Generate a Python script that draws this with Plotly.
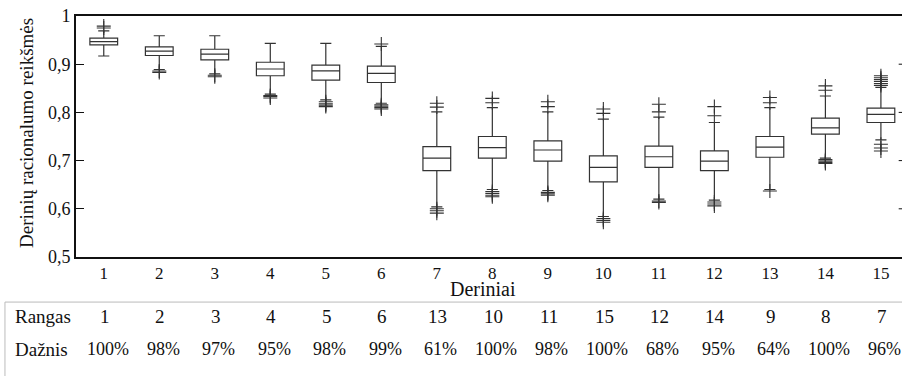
import plotly.graph_objects as go

categories = list(range(1, 16))
q1 =            [0.940, 0.918, 0.909, 0.876, 0.867, 0.862, 0.679, 0.705, 0.699, 0.656, 0.686, 0.679, 0.707, 0.755, 0.779]
median =        [0.947, 0.927, 0.921, 0.890, 0.886, 0.881, 0.705, 0.727, 0.722, 0.686, 0.708, 0.699, 0.728, 0.768, 0.796]
q3 =            [0.954, 0.936, 0.931, 0.904, 0.898, 0.896, 0.729, 0.750, 0.741, 0.710, 0.730, 0.720, 0.750, 0.788, 0.809]
lower_whisker = [0.917, 0.889, 0.880, 0.838, 0.826, 0.819, 0.604, 0.640, 0.638, 0.584, 0.620, 0.618, 0.640, 0.705, 0.743]
upper_whisker = [0.969, 0.959, 0.959, 0.943, 0.943, 0.937, 0.801, 0.810, 0.801, 0.786, 0.790, 0.779, 0.810, 0.834, 0.852]
outliers = [
    [0.975, 0.979],
    [0.886, 0.883],
    [0.877, 0.874],
    [0.835, 0.833, 0.830],
    [0.822, 0.818, 0.815, 0.812],
    [0.942, 0.816, 0.813, 0.810, 0.807],
    [0.811, 0.819, 0.600, 0.596, 0.591],
    [0.820, 0.829, 0.636, 0.632, 0.628, 0.625],
    [0.812, 0.822, 0.634, 0.631, 0.628],
    [0.798, 0.807, 0.580, 0.576, 0.572],
    [0.801, 0.817, 0.616, 0.613],
    [0.793, 0.812, 0.614, 0.610, 0.606],
    [0.820, 0.831, 0.637],
    [0.846, 0.855, 0.702, 0.699, 0.696, 0.694],
    [0.856, 0.860, 0.864, 0.868, 0.872, 0.876, 0.734, 0.726, 0.720],
]
rank_labels = ["1", "2", "3", "4", "5", "6", "13", "10", "11", "15", "12", "14", "9", "8", "7"]
freq_labels = ["100%", "98%", "97%", "95%", "98%", "99%", "61%", "100%", "98%", "100%", "68%", "95%", "64%", "100%", "96%"]
ytick_vals = [0.5, 0.6, 0.7, 0.8, 0.9, 1.0]
ytick_text = ["0,5", "0,6", "0,7", "0,8", "0,9", "1"]
x_title = "Deriniai"
y_title = "Derinių racionalumo reikšmės"
row_titles = ["Rangas", "Dažnis"]

FONT = "Liberation Serif"
INK = "#333333"

fig = go.Figure()
fig.add_trace(go.Box(
    x=categories, q1=q1, median=median, q3=q3,
    lowerfence=lower_whisker, upperfence=upper_whisker,
    width=0.5, whiskerwidth=0.4, fillcolor="white",
    line=dict(color=INK, width=1.2), boxpoints=False, showlegend=False,
    hoverinfo="skip",
))
ox, oy = [], []
for c, vals in zip(categories, outliers):
    for v in vals:
        ox.append(c)
        oy.append(v)
fig.add_trace(go.Scatter(
    x=ox, y=oy, mode="markers", showlegend=False, hoverinfo="skip",
    marker=dict(symbol="cross-thin", size=10, line=dict(color=INK, width=1.1)),
))

fig.update_layout(
    width=902, height=376,
    margin=dict(l=76, r=0, t=16, b=119),
    plot_bgcolor="white", paper_bgcolor="white",
    font=dict(family=FONT, size=17, color="#111"),
    xaxis=dict(range=[0.5, 15.38], tickmode="array", tickvals=categories,
               ticktext=[str(c) for c in categories], showgrid=False, zeroline=False,
               showline=True, mirror=True, linecolor="#111", linewidth=2, ticks="",
               tickfont=dict(size=17)),
    yaxis=dict(range=[0.5, 1.0], tickmode="array", tickvals=ytick_vals, ticktext=ytick_text,
               showgrid=False, zeroline=False, showline=True, linecolor="#111", linewidth=2,
               ticks="inside", ticklen=8, tickcolor="#111", tickfont=dict(size=18)),
)

# right-edge tick stubs
for v in ytick_vals[1:-1]:
    fig.add_shape(type="line", xref="paper", yref="y", x0=0.996, x1=1.0, y0=v, y1=v,
                  line=dict(color="#111", width=1))

# axis titles
fig.add_annotation(text=x_title, xref="paper", yref="paper", x=0.493, y=-0.133,
                   xanchor="center", yanchor="middle", showarrow=False,
                   font=dict(family=FONT, size=20, color="#111"))
fig.add_annotation(text=y_title, xref="paper", yref="paper", x=-0.0593, y=0.515,
                   xanchor="center", yanchor="middle", textangle=-90, showarrow=False,
                   font=dict(family=FONT, size=19, color="#111"))

# table lines
fig.add_shape(type="line", xref="paper", yref="paper", x0=-0.086, x1=1.0, y0=-0.187, y1=-0.187,
              line=dict(color="#bbbbbb", width=1))
fig.add_shape(type="line", xref="paper", yref="paper", x0=-0.086, x1=-0.086, y0=-0.187, y1=-0.5,
              line=dict(color="#bbbbbb", width=1))

row_y = [-0.245, -0.382]
for title, yy in zip(row_titles, row_y):
    fig.add_annotation(text=title, xref="paper", yref="paper", x=-0.0763, y=yy,
                       xanchor="left", yanchor="middle", showarrow=False,
                       font=dict(family=FONT, size=19, color="#111"))
for c, r, f in zip(categories, rank_labels, freq_labels):
    fig.add_annotation(text=r, xref="x", yref="paper", x=c, y=row_y[0], xshift=1,
                       xanchor="center", yanchor="middle", showarrow=False,
                       font=dict(family=FONT, size=19, color="#111"))
    fig.add_annotation(text=f, xref="x", yref="paper", x=c, y=row_y[1], xshift=4,
                       xanchor="center", yanchor="middle", showarrow=False,
                       font=dict(family=FONT, size=18, color="#111"))

fig.write_html("out.html")
